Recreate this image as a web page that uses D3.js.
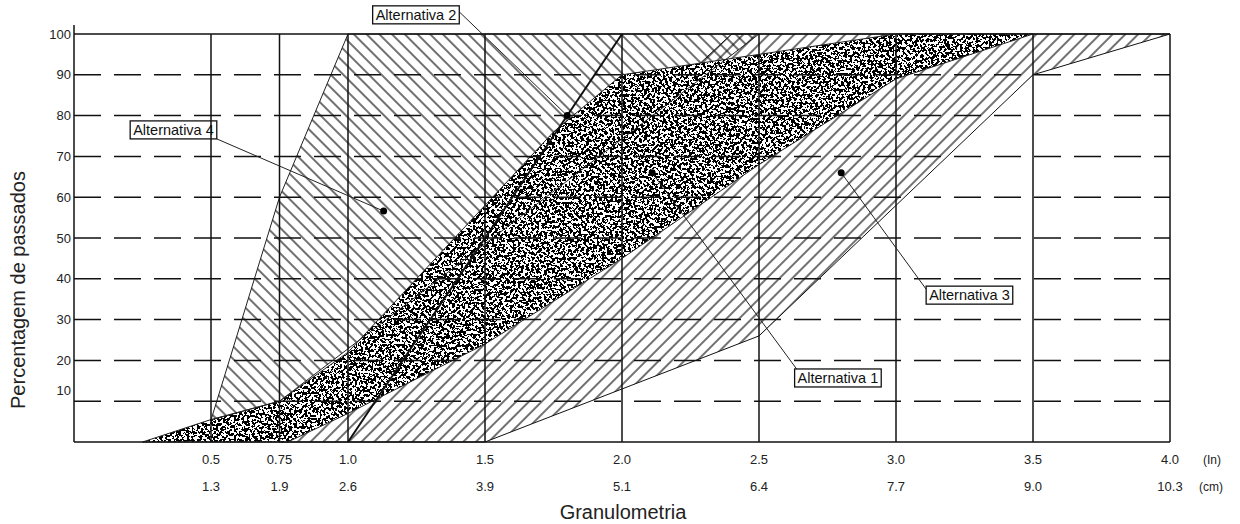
<!DOCTYPE html>
<html>
<head>
<meta charset="utf-8">
<script src="https://cdn.jsdelivr.net/npm/d3@7"></script>
<style>
  body { margin: 0; background: #fff; }
  svg { display: block; font-family: "Liberation Sans", Arial, sans-serif; }
</style>
</head>
<body>
<div id="chart"></div>
<script>
// tick values / labels
var inchTicks = [0.5, 0.75, 1.0, 1.5, 2.0, 2.5, 3.0, 3.5, 4.0];
var inchLabels = ["0.5", "0.75", "1.0", "1.5", "2.0", "2.5", "3.0", "3.5", "4.0"];
var cmLabels = ["1.3", "1.9", "2.6", "3.9", "5.1", "6.4", "7.7", "9.0", "10.3"];
var pctTicks = [10, 20, 30, 40, 50, 60, 70, 80, 90, 100];

// bands: [size (in), % passing]
var alt4Upper = [[0.5, 5.4], [0.75, 60], [1.0, 100]];
var alt4Lower = [[0.5, 5.4], [0.75, 10], [2.5, 100]];
var alt3Upper = [[0.75, 0], [1.5, 40], [2.0, 75], [2.4, 100]];
var alt3Lower = [[1.5, 0], [2.0, 13], [2.5, 26], [3.0, 58], [3.5, 90], [4.0, 100]];
var alt1Upper = [[0.25, 0], [0.5, 5.5], [0.75, 10], [1.0, 22], [1.25, 40], [1.5, 58], [1.75, 76], [2.0, 90], [2.5, 95], [3.0, 100], [3.5, 100]];
var alt1Lower = [[0.78, 0], [1.0, 7], [1.5, 24], [2.0, 45], [2.5, 68], [3.0, 89], [3.5, 100]];
var alt2Line = [[1.0, 0], [2.0, 100]];

// label texts, dot positions, label anchor (in, %)
var altNames = ["Alternativa 1", "Alternativa 2", "Alternativa 3", "Alternativa 4"];
var altDots = [[2.11, 66], [1.80, 80], [2.80, 66], [1.13, 56.6]];
var altLabelAt = [[2.63, 17.9], [1.09, 106.9], [3.11, 38.2], [0.205, 78.7]];

var W = 1240, H = 524;
var svg = d3.select("#chart").append("svg")
    .attr("width", W).attr("height", H);

var x = d3.scaleLinear().domain([0, 4]).range([74, 1170]);
var y = d3.scaleLinear().domain([0, 100]).range([442, 34]);

var defs = svg.append("defs");

function hatch(id, angle) {
  var p = defs.append("pattern")
      .attr("id", id)
      .attr("patternUnits", "userSpaceOnUse")
      .attr("width", 9).attr("height", 9)
      .attr("patternTransform", "rotate(" + angle + ")");
  p.append("line")
      .attr("x1", 1).attr("y1", -1).attr("x2", 1).attr("y2", 10)
      .attr("stroke", "#111").attr("stroke-width", 1.2);
}
hatch("back", -45);   // \\\ 
hatch("fwd", 45);     // ///

// stipple texture
var f = defs.append("filter")
    .attr("id", "stip")
    .attr("filterUnits", "userSpaceOnUse")
    .attr("x", 60).attr("y", 20).attr("width", 1130).attr("height", 440)
    .attr("color-interpolation-filters", "sRGB");
f.append("feTurbulence")
    .attr("type", "fractalNoise").attr("baseFrequency", 0.38)
    .attr("numOctaves", 3).attr("seed", 7).attr("result", "noise");
f.append("feColorMatrix")
    .attr("type", "matrix")
    .attr("values", "0 0 0 0 0  0 0 0 0 0  0 0 0 0 0  1 0 0 0 0");
f.append("feComponentTransfer")
  .append("feFuncA")
    .attr("type", "discrete")
    .attr("tableValues", "0 0 0 0 0 1 1 1 1 1");
f.append("feComposite")
    .attr("in2", "SourceGraphic").attr("operator", "in");

var line = d3.line().x(function(d){ return x(d[0]); }).y(function(d){ return y(d[1]); });

function band(up, low) {
  return line(up.concat(low.slice().reverse())) + "Z";
}

var g = svg.append("g");

// hatched bands
g.append("path").attr("d", band(alt4Upper, alt4Lower))
    .attr("fill", "url(#back)").attr("stroke", "none");
g.append("path").attr("d", band(alt3Upper, alt3Lower))
    .attr("fill", "url(#fwd)").attr("stroke", "#111").attr("stroke-width", 1);

// stippled band
var a1 = band(alt1Upper, alt1Lower);
g.append("path").attr("d", a1).attr("fill", "#fff");
g.append("path").attr("d", a1).attr("fill", "#000").attr("filter", "url(#stip)");
g.append("path").attr("d", a1).attr("fill", "none").attr("stroke", "#222").attr("stroke-width", 1);

g.append("path").attr("d", band(alt4Upper, alt4Lower))
    .attr("fill", "none").attr("stroke", "#222").attr("stroke-width", 1);

g.append("path").attr("d", line(alt2Line))
    .attr("fill", "none").attr("stroke", "#111").attr("stroke-width", 2);

// grid
var grid = svg.append("g");
grid.selectAll(".hg").data(pctTicks.filter(function(v){ return v < 100; }))
  .enter().append("line")
    .attr("x1", x(0)).attr("x2", x(4))
    .attr("y1", function(d){ return y(d); }).attr("y2", function(d){ return y(d); })
    .attr("stroke", "#111").attr("stroke-width", 1.5)
    .attr("stroke-dasharray", "27,13");
grid.selectAll(".vg").data(inchTicks)
  .enter().append("line")
    .attr("x1", function(d){ return x(d); }).attr("x2", function(d){ return x(d); })
    .attr("y1", y(100)).attr("y2", y(0))
    .attr("stroke", "#111").attr("stroke-width", 1.5);
grid.append("line").attr("x1", x(0)).attr("x2", x(4)).attr("y1", y(100)).attr("y2", y(100))
    .attr("stroke", "#111").attr("stroke-width", 1.5);
grid.append("line").attr("x1", x(0)).attr("x2", x(4)).attr("y1", y(0)).attr("y2", y(0))
    .attr("stroke", "#111").attr("stroke-width", 1.5);
grid.append("line").attr("x1", x(0)).attr("x2", x(0)).attr("y1", y(100) - 9).attr("y2", y(0))
    .attr("stroke", "#111").attr("stroke-width", 1.5);

// y tick labels
svg.append("g").selectAll("text").data(pctTicks)
  .enter().append("text")
    .attr("x", 71)
    .attr("y", function(d){ return y(d) + (d === 10 ? -11 : 0); })
    .attr("dy", "0.35em")
    .attr("text-anchor", "end")
    .attr("font-size", 13).attr("fill", "#222")
    .text(function(d){ return d; });

// x tick labels (in / cm)
var xt = svg.append("g").attr("font-size", 13).attr("fill", "#222").attr("text-anchor", "middle");
xt.selectAll(".in").data(inchTicks).enter().append("text")
    .attr("x", function(d){ return x(d); }).attr("y", 464)
    .text(function(d, i){ return inchLabels[i]; });
xt.selectAll(".cm").data(inchTicks).enter().append("text")
    .attr("x", function(d){ return x(d); }).attr("y", 491)
    .text(function(d, i){ return cmLabels[i]; });
xt.append("text").attr("x", 1203).attr("y", 464).attr("text-anchor", "start").attr("font-size", 12).text("(In)");
xt.append("text").attr("x", 1199).attr("y", 491).attr("text-anchor", "start").attr("font-size", 12).text("(cm)");

// axis titles
svg.append("text").attr("x", 623).attr("y", 519).attr("text-anchor", "middle")
    .attr("font-size", 20).attr("fill", "#222").text("Granulometria");
svg.append("text").attr("transform", "translate(25,290) rotate(-90)")
    .attr("text-anchor", "middle").attr("font-size", 20).attr("fill", "#222")
    .text("Percentagem de passados");

// callouts
var ann = svg.append("g");
altNames.forEach(function(name, i) {
  var lx = x(altLabelAt[i][0]), ly = y(altLabelAt[i][1]);
  var t = ann.append("text")
      .attr("x", lx + 3).attr("y", ly + 14)
      .attr("font-size", 14.5).attr("fill", "#111")
      .text(name);
  var bb = t.node().getBBox();
  var bx = bb.x - 3, by = ly, bw = bb.width + 6, bh = 18;
  var dx = x(altDots[i][0]), dy = y(altDots[i][1]);
  // leader start on the box edge nearest the dot
  var sx = dx > bx + bw ? bx + bw : bx;
  var sy = dy > by + bh ? by + bh : (dy < by ? by : by + bh / 2);
  if (i === 0) { sx = bx + 2; sy = by; }
  if (i === 2) { sx = bx; sy = by + 3; }
  if (i === 1) { sx = bx + bw; sy = by + 6; }
  ann.insert("line", "text")
      .attr("x1", sx).attr("y1", sy).attr("x2", dx).attr("y2", dy)
      .attr("stroke", "#222").attr("stroke-width", 1);
  ann.insert("rect", "text")
      .attr("x", bx).attr("y", by).attr("width", bw).attr("height", bh)
      .attr("fill", "none").attr("stroke", "#111").attr("stroke-width", 1.3);
  ann.append("circle").attr("cx", dx).attr("cy", dy).attr("r", 3.5).attr("fill", "#000");
});
</script>
</body>
</html>
